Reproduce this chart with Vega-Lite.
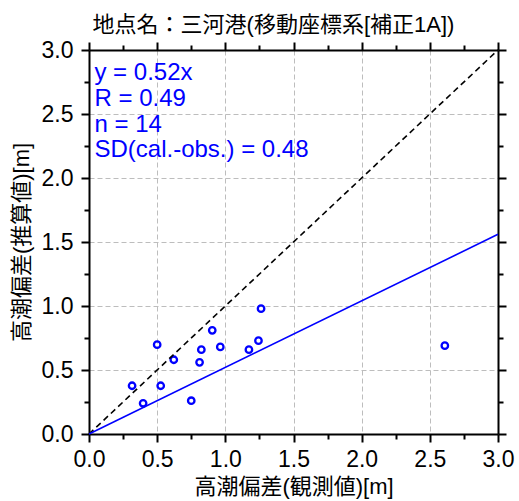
{
  "$schema": "https://vega.github.io/schema/vega-lite/v6.json",
  "autosize": {"type": "none"},
  "padding": {"left": 89, "top": 50, "right": 21, "bottom": 67},
  "width": 409,
  "height": 384,
  "background": "white",
  "config": {
    "view": {"stroke": null},
    "font": "Liberation Sans, Noto Sans CJK JP",
    "axis": {
      "domainColor": "black", "domainWidth": 2,
      "tickColor": "black", "tickWidth": 2,
      "labelFont": "Liberation Sans", "labelFontSize": 23, "labelColor": "black",
      "titleFont": "Liberation Sans, Noto Sans CJK JP", "titleFontSize": 22, "titleFontWeight": "normal", "titleColor": "black",
      "gridColor": "#bdbdbd", "gridDash": [5, 3], "gridWidth": 1
    }
  },
  "title": {
    "text": "地点名：三河港(移動座標系[補正1A])",
    "font": "Liberation Sans, Noto Sans CJK JP",
    "fontSize": 22, "fontWeight": "normal", "color": "black",
    "anchor": "middle", "dx": -20, "offset": 2
  },
  "datasets": {
    "pts": [
      {"obs": 0.316, "cal": 0.377},
      {"obs": 0.397, "cal": 0.240},
      {"obs": 0.500, "cal": 0.698},
      {"obs": 0.526, "cal": 0.377},
      {"obs": 0.622, "cal": 0.580},
      {"obs": 0.750, "cal": 0.260},
      {"obs": 0.811, "cal": 0.560},
      {"obs": 0.824, "cal": 0.659},
      {"obs": 0.904, "cal": 0.810},
      {"obs": 0.963, "cal": 0.680},
      {"obs": 1.173, "cal": 0.659},
      {"obs": 1.243, "cal": 0.729},
      {"obs": 1.262, "cal": 0.979},
      {"obs": 2.610, "cal": 0.690}
    ],
    "one": [{"obs": 0, "cal": 0}, {"obs": 3, "cal": 3}],
    "reg": [{"obs": 0, "cal": 0}, {"obs": 3, "cal": 1.56}],
    "txt": [
      {"obs": 0.04, "cal": 2.766, "label": "y = 0.52x"},
      {"obs": 0.04, "cal": 2.5625, "label": "R = 0.49"},
      {"obs": 0.04, "cal": 2.359, "label": "n = 14"},
      {"obs": 0.04, "cal": 2.164, "label": "SD(cal.-obs.) = 0.48"}
    ]
  },
  "layer": [
    {
      "data": {"name": "pts"},
      "mark": {"type": "point", "shape": "circle", "filled": false, "stroke": "#0000ff", "strokeWidth": 2.3, "size": 42, "opacity": 1},
      "encoding": {
        "x": {"field": "obs", "type": "quantitative",
          "scale": {"domain": [0, 3], "nice": false, "zero": true},
          "axis": {"orient": "bottom", "title": "高潮偏差(観測値)[m]",
            "values": [0, 0.25, 0.5, 0.75, 1, 1.25, 1.5, 1.75, 2, 2.25, 2.5, 2.75, 3],
            "labelExpr": "datum.value % 0.5 == 0 ? format(datum.value, '.1f') : ''",
            "tickSize": {"condition": {"test": "datum.value % 0.5 == 0", "value": 8}, "value": 5},
            "gridOpacity": {"condition": {"test": "datum.value % 0.5 == 0 && datum.value > 0 && datum.value < 3", "value": 1}, "value": 0},
            "grid": true, "labelPadding": 6, "titlePadding": 5, "labelFlush": false, "labelOverlap": false}},
        "y": {"field": "cal", "type": "quantitative",
          "scale": {"domain": [0, 3], "nice": false, "zero": true},
          "axis": {"orient": "left", "title": "高潮偏差(推算値)[m]",
            "values": [0, 0.25, 0.5, 0.75, 1, 1.25, 1.5, 1.75, 2, 2.25, 2.5, 2.75, 3],
            "labelExpr": "datum.value % 0.5 == 0 ? format(datum.value, '.1f') : ''",
            "tickSize": {"condition": {"test": "datum.value % 0.5 == 0", "value": 8}, "value": 5},
            "gridOpacity": {"condition": {"test": "datum.value % 0.5 == 0 && datum.value > 0 && datum.value < 3", "value": 1}, "value": 0},
            "grid": true, "labelPadding": 8, "titlePadding": 8, "labelFlush": false, "labelOverlap": false}}
      }
    },
    {
      "data": {"name": "one"},
      "mark": {"type": "line", "color": "black", "strokeWidth": 1.6, "strokeDash": [6, 4]},
      "encoding": {
        "x": {"field": "obs", "type": "quantitative",
          "axis": {"orient": "top", "title": null, "labels": false, "grid": false,
            "values": [0, 0.25, 0.5, 0.75, 1, 1.25, 1.5, 1.75, 2, 2.25, 2.5, 2.75, 3],
            "tickSize": {"condition": {"test": "datum.value % 0.5 == 0", "value": 8}, "value": 5}}},
        "y": {"field": "cal", "type": "quantitative",
          "axis": {"orient": "right", "title": null, "labels": false, "grid": false,
            "values": [0, 0.25, 0.5, 0.75, 1, 1.25, 1.5, 1.75, 2, 2.25, 2.5, 2.75, 3],
            "tickSize": {"condition": {"test": "datum.value % 0.5 == 0", "value": 8}, "value": 5}}}
      }
    },
    {
      "data": {"name": "reg"},
      "mark": {"type": "line", "color": "#0000ff", "strokeWidth": 1.6},
      "encoding": {
        "x": {"field": "obs", "type": "quantitative", "axis": null},
        "y": {"field": "cal", "type": "quantitative", "axis": null}
      }
    },
    {
      "data": {"name": "txt"},
      "mark": {"type": "text", "align": "left", "baseline": "alphabetic", "color": "#0000ff", "fontSize": 24, "font": "Liberation Sans"},
      "encoding": {
        "x": {"field": "obs", "type": "quantitative", "axis": null},
        "y": {"field": "cal", "type": "quantitative", "axis": null},
        "text": {"field": "label"}
      }
    }
  ],
  "resolve": {"axis": {"x": "independent", "y": "independent"}}
}
